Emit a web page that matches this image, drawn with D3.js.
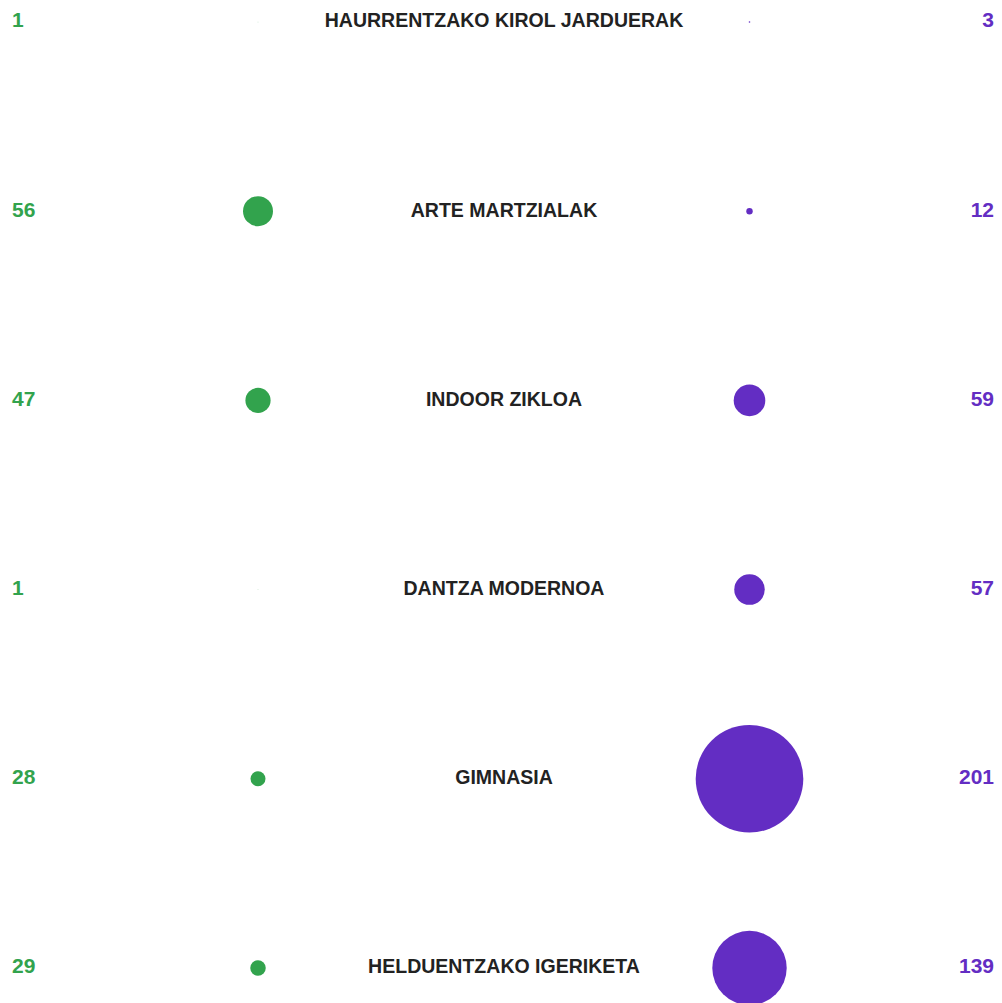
<!DOCTYPE html>
<html>
<head>
<meta charset="utf-8">
<script src="https://cdn.jsdelivr.net/npm/d3@7"></script>
<style>
  html, body { margin: 0; padding: 0; background: #fff; }
  svg { display: block; }
  .lbl { font-family: "Liberation Sans", Arial, sans-serif; font-weight: bold; }
</style>
</head>
<body>
<svg id="chart" width="1002" height="1003"></svg>
<script>
// Activities (centre column), with the two groups shown left (green) and right (purple)
const categories = [
  "HAURRENTZAKO KIROL JARDUERAK",
  "ARTE MARTZIALAK",
  "INDOOR ZIKLOA",
  "DANTZA MODERNOA",
  "GIMNASIA",
  "HELDUENTZAKO IGERIKETA"
];
const leftValues  = [1, 56, 47, 1, 28, 29];
const rightValues = [3, 12, 59, 57, 201, 139];

const green = "#32a34d", purple = "#632dc3", ink = "#222222";
const fontSize = 21;

const svg = d3.select("#chart");

const y = d3.scalePoint().domain(categories).range([20, 966]);
const x = d3.scaleOrdinal()
  .domain(["leftNum", "leftDot", "label", "rightDot", "rightNum"])
  .range([12, 258, 504, 749.5, 994]);
const maxVal = d3.max(leftValues.concat(rightValues));
const r = d3.scaleLinear().domain([0, maxVal]).range([0, 53.8]);

const rows = categories.map((c, i) => ({ c, left: leftValues[i], right: rightValues[i] }));

const g = svg.selectAll("g.row").data(rows).join("g").attr("class", "row");

// circles sized linearly by value
g.append("circle")
  .attr("cx", x("leftDot"))
  .attr("cy", d => y(d.c) + 2)
  .attr("r", d => r(d.left))
  .attr("fill", green);

g.append("circle")
  .attr("cx", x("rightDot"))
  .attr("cy", d => y(d.c) + 2)
  .attr("r", d => r(d.right))
  .attr("fill", purple);

// value labels
g.append("text").attr("class", "lbl")
  .attr("x", x("leftNum"))
  .attr("y", d => y(d.c))
  .attr("dy", "0.35em")
  .attr("font-size", fontSize)
  .attr("fill", green)
  .text(d => d.left);

g.append("text").attr("class", "lbl")
  .attr("x", x("rightNum"))
  .attr("y", d => y(d.c))
  .attr("dy", "0.35em")
  .attr("text-anchor", "end")
  .attr("font-size", fontSize)
  .attr("fill", purple)
  .text(d => d.right);

// activity names, set slightly condensed
g.append("text").attr("class", "lbl")
  .attr("transform", d => `translate(${x("label")},${y(d.c)}) scale(0.93,1)`)
  .attr("dy", "0.35em")
  .attr("text-anchor", "middle")
  .attr("font-size", fontSize)
  .attr("fill", ink)
  .text(d => d.c);
</script>
</body>
</html>
